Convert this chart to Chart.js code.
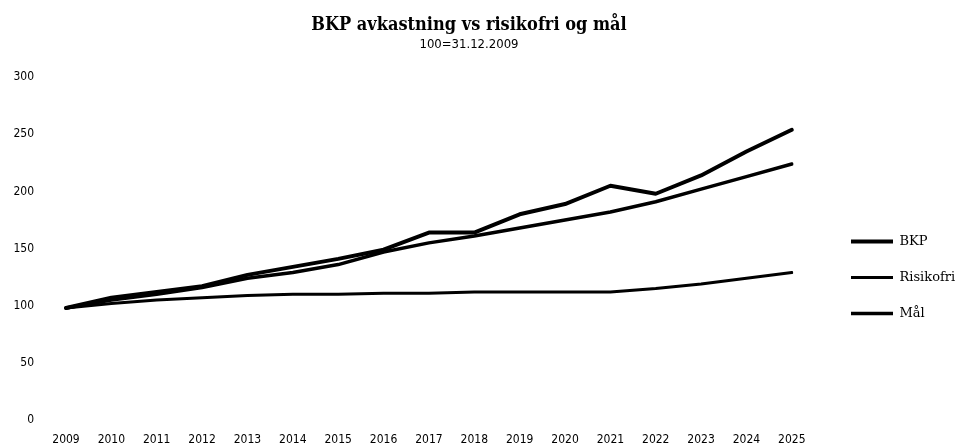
<!DOCTYPE html>
<html lang="no">
<head>
  <meta charset="UTF-8" />
  <title>BKP avkastning vs risikofri og mål</title>
  <script src="https://cdn.jsdelivr.net/npm/chart.js"></script>
  <style>
    *{margin:0;padding:0;box-sizing:border-box}
    body{background:#fff}
    .wrap{width:963px;height:446px;position:relative}
  </style>
</head>
<body>
  <div class="wrap"><canvas id="bkpChart"></canvas></div>

  <script>
    // data lest av figuren (indeks, 100 = 31.12.2009)
    const years = ['2009','2010','2011','2012','2013','2014','2015','2016','2017','2018','2019','2020','2021','2022','2023','2024','2025'];
    const bkp       = [98, 107, 112, 117, 127, 134, 141, 149, 164, 164, 180, 189, 205, 198, 214, 235, 254];
    const risikofri = [98, 102, 105, 107, 109, 110, 110, 111, 111, 112, 112, 112, 112, 115, 119, 124, 129];
    const maal      = [98, 105, 110, 116, 124, 129, 136, 147, 155, 161, 168, 175, 182, 191, 202, 213, 224];
    const yTicks    = [0, 50, 100, 150, 200, 250, 300];

    const serifC = '"DejaVu Serif Condensed", "DejaVu Serif", serif';
    const serif = '"DejaVu Serif", serif';
    const narrow = '"Liberation Sans Narrow", "DejaVu Sans Condensed", sans-serif';

    Chart.defaults.color = '#000';

    // legenden står litt ut til høyre og ned, som i originalen
    const legendShift = {
      id: 'legendShift',
      afterLayout(chart) {
        const lg = chart.legend;
        if (!lg) return;
        const dx = 851 - (lg.left + lg.options.labels.padding);
        lg.left += dx; lg.right += dx;
        lg.top = 212; lg.bottom = lg.top + lg.height;
      }
    };

    new Chart(document.getElementById('bkpChart'), {
      type: 'line',
      data: {
        labels: years,
        datasets: [
          { label: 'BKP', data: bkp, borderColor: '#000', backgroundColor: '#000', borderWidth: 4 },
          { label: 'Risikofri', data: risikofri, borderColor: '#000', backgroundColor: '#000', borderWidth: 3 },
          { label: 'Mål', data: maal, borderColor: '#000', backgroundColor: '#000', borderWidth: 3.5 }
        ]
      },
      options: {
        responsive: true,
        maintainAspectRatio: false,
        animation: false,
        elements: {
          line: { tension: 0, borderJoinStyle: 'round', borderCapStyle: 'round' },
          point: { radius: 0, hoverRadius: 0 }
        },
        layout: { padding: { left: 9, right: 34, top: 0, bottom: 0 } },
        plugins: {
          title: {
            display: true,
            text: 'BKP avkastning vs risikofri og mål',
            font: { family: serifC, size: 18, weight: 'bold' },
            padding: { top: 15, bottom: 0 }
          },
          subtitle: {
            display: true,
            text: '100=31.12.2009',
            font: { family: narrow, size: 13 },
            padding: { top: 0, bottom: 25 }
          },
          legend: {
            position: 'right',
            align: 'start',
            labels: {
              usePointStyle: true,
              pointStyle: 'line',
              pointStyleWidth: 42,
              padding: 23,
              font: { family: serif, size: 13 }
            }
          },
          tooltip: { enabled: false }
        },
        scales: {
          x: {
            grid: { display: false, drawTicks: false },
            border: { display: false },
            ticks: { font: { family: narrow, size: 12 }, padding: 13, maxRotation: 0, autoSkip: false },
            afterFit: s => { s.height = 26; }
          },
          y: {
            min: 0,
            max: 300,
            grid: { display: false, drawTicks: false },
            border: { display: false },
            ticks: { stepSize: 50, font: { family: narrow, size: 12 }, padding: 32 },
            afterBuildTicks: s => { s.ticks = yTicks.map(v => ({ value: v })); },
            // tick-paddingen skal ikke gi ekstra luft over/under plottet
            afterFit: s => { s.width = 57; s.paddingTop = 0; s.paddingBottom = 0; }
          }
        }
      },
      plugins: [legendShift]
    });
  </script>
</body>
</html>
